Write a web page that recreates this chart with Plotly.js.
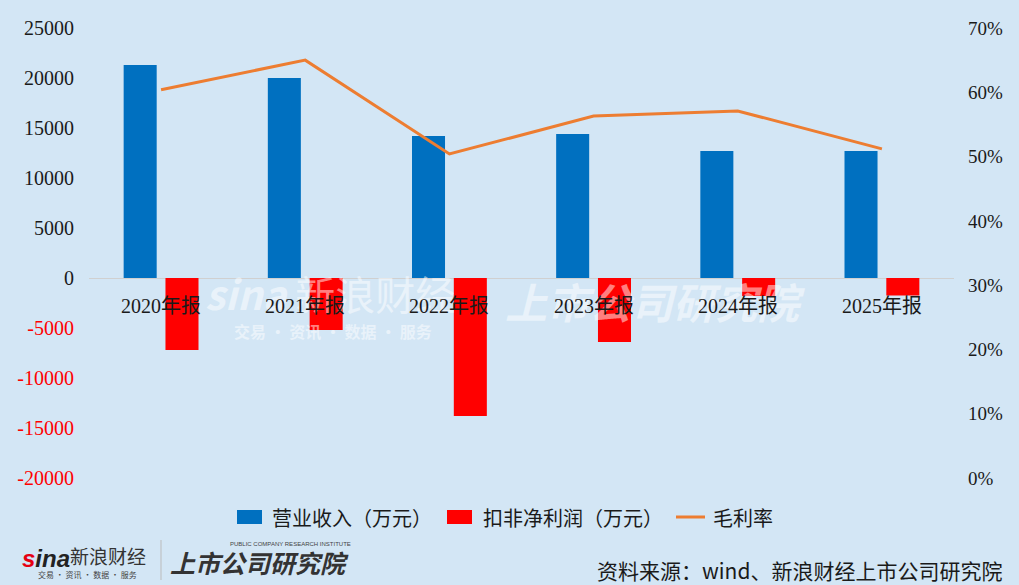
<!DOCTYPE html>
<html>
<head>
<meta charset="utf-8">
<script src="https://cdn.plot.ly/plotly-3.0.1.min.js"></script>
<style>
html,body{margin:0;padding:0;background:#D3E6F5;}
#chart{width:1019px;height:585px;}
</style>
</head>
<body>
<div id="chart"></div>
<script>
const categories = ["2020年报","2021年报","2022年报","2023年报","2024年报","2025年报"];
const revenue = [21300, 20000, 14200, 14400, 12700, 12700];
const netProfitExcl = [-7200, -5200, -13800, -6400, -1800, -1750];
const grossMargin = [0.604, 0.650, 0.504, 0.563, 0.571, 0.512];
const leftTickVals = [-20000,-15000,-10000,-5000,0,5000,10000,15000,20000,25000];
const rightTickVals = [0,0.1,0.2,0.3,0.4,0.5,0.6,0.7];
const seriesNames = ["营业收入（万元）","扣非净利润（万元）","毛利率"];
const seriesColors = ['#0070C0','#FF0000','#ED7D31'];

const FONT = "'Liberation Serif', 'Noto Sans CJK SC', serif";
const CJK = "'Noto Sans CJK SC', sans-serif";

// pixel -> paper helpers (plot area: x 89..954, y 28..478)
const px = x => (x - 89) / 865;
const py = y => (478 - y) / 450;

const leftTickText = leftTickVals.map(v => v < 0 ? '<span style="color:#FF0000">' + v + '</span>' : String(v));
const rightTickText = rightTickVals.map(v => Math.round(v*100) + '%');

const traces = [
  {type:'bar', name:seriesNames[0], x:categories, y:revenue, marker:{color:seriesColors[0]}, yaxis:'y', hoverinfo:'skip'},
  {type:'bar', name:seriesNames[1], x:categories, y:netProfitExcl, marker:{color:seriesColors[1]}, yaxis:'y', hoverinfo:'skip'},
  {type:'scatter', mode:'lines', name:seriesNames[2], x:categories, y:grossMargin, line:{color:seriesColors[2], width:3}, yaxis:'y2', hoverinfo:'skip'}
];

const WM = 'rgba(255,255,255,0.5)';
const annotations = [
  // watermark
  {xref:'paper', yref:'paper', x:px(330), y:py(293), xanchor:'center', yanchor:'middle',
   text:'<b><i>sina</i></b> 新浪财经', showarrow:false, font:{family:CJK, size:40, color:WM}},
  {xref:'paper', yref:'paper', x:px(333), y:py(331), xanchor:'center', yanchor:'middle',
   text:'<b>交易 · 资讯 · 数据 · 服务</b>', showarrow:false, font:{family:CJK, size:16, color:WM}},
  {xref:'paper', yref:'paper', x:px(655), y:py(300), xanchor:'center', yanchor:'middle',
   text:'<b><i>上市公司研究院</i></b>', showarrow:false, font:{family:CJK, size:42, color:WM}}
];

categories.forEach(c => annotations.push({
  x:c, y:0, xref:'x', yref:'y', text:c, showarrow:false,
  yanchor:'middle', yshift:-28, font:{family:FONT, size:20, color:'#1a1a1a'}
}));

// custom legend
const legendTextX = [270, 481, 711];
seriesNames.forEach((n, i) => annotations.push({
  xref:'paper', yref:'paper', x:px(legendTextX[i]), y:py(517), xanchor:'left', yanchor:'middle',
  text:n, showarrow:false, font:{family:CJK, size:20, color:'#1a1a1a'}
}));

// footer logos and source
annotations.push(
  {xref:'paper', yref:'paper', x:px(20), y:py(558), xanchor:'left', yanchor:'middle',
   text:'<b><i><span style="color:#E60012">s</span>ina</i></b>', showarrow:false,
   font:{family:"'Liberation Sans', sans-serif", size:24, color:'#222'}},
  {xref:'paper', yref:'paper', x:px(68), y:py(555), xanchor:'left', yanchor:'middle',
   text:'新浪财经', showarrow:false, font:{family:CJK, size:19, color:'#333'}},
  {xref:'paper', yref:'paper', x:px(36), y:py(574), xanchor:'left', yanchor:'middle',
   text:'交易 · 资讯 · 数据 · 服务', showarrow:false, font:{family:CJK, size:8, color:'#444'}},
  {xref:'paper', yref:'paper', x:px(168), y:py(562), xanchor:'left', yanchor:'middle',
   text:'<b><i>上市公司研究院</i></b>', showarrow:false, font:{family:CJK, size:25, color:'#333'}},
  {xref:'paper', yref:'paper', x:px(228), y:py(544), xanchor:'left', yanchor:'middle',
   text:'PUBLIC COMPANY RESEARCH INSTITUTE', showarrow:false, font:{family:"'Liberation Sans', sans-serif", size:6, color:'#444'}},
  {xref:'paper', yref:'paper', x:px(1004), y:py(570), xanchor:'right', yanchor:'middle',
   text:'资料来源：wind、新浪财经上市公司研究院', showarrow:false, font:{family:CJK, size:21, color:'#1a1a1a'}}
);

const shapes = [
  {type:'rect', xref:'paper', yref:'paper', x0:px(237), x1:px(262), y0:py(524), y1:py(510),
   fillcolor:seriesColors[0], line:{width:0}},
  {type:'rect', xref:'paper', yref:'paper', x0:px(447), x1:px(472), y0:py(524), y1:py(510),
   fillcolor:seriesColors[1], line:{width:0}},
  {type:'line', xref:'paper', yref:'paper', x0:px(676), x1:px(705), y0:py(517), y1:py(517),
   line:{color:seriesColors[2], width:3}},
  {type:'line', xref:'paper', yref:'paper', x0:px(161), x1:px(161), y0:py(540), y1:py(580),
   line:{color:'#bbb', width:1}}
];

const layout = {
  width:1019, height:585,
  margin:{l:89, r:65, t:28, b:107, pad:0},
  paper_bgcolor:'#D3E6F5', plot_bgcolor:'#D3E6F5',
  barmode:'group', bargap:0.42, bargroupgap:0.21,
  showlegend:false,
  xaxis:{showticklabels:false, showgrid:false, zeroline:false, showline:false, ticks:''},
  yaxis:{range:[-20000,25000], tickvals:leftTickVals, ticktext:leftTickText, showgrid:false,
         zeroline:true, zerolinecolor:'#D0D0D0', zerolinewidth:1, showline:false, ticks:'',
         ticklabelstandoff:14, tickfont:{family:FONT, size:20, color:'#1a1a1a'}},
  yaxis2:{range:[0,0.7], overlaying:'y', side:'right', tickvals:rightTickVals, ticktext:rightTickText,
          showgrid:false, zeroline:false, showline:false, ticks:'', ticklabelstandoff:13,
          tickfont:{family:FONT, size:19, color:'#1a1a1a'}},
  annotations:annotations,
  shapes:shapes,
  font:{family:FONT}
};

Plotly.newPlot('chart', traces, layout, {staticPlot:true, displayModeBar:false});
</script>
</body>
</html>
